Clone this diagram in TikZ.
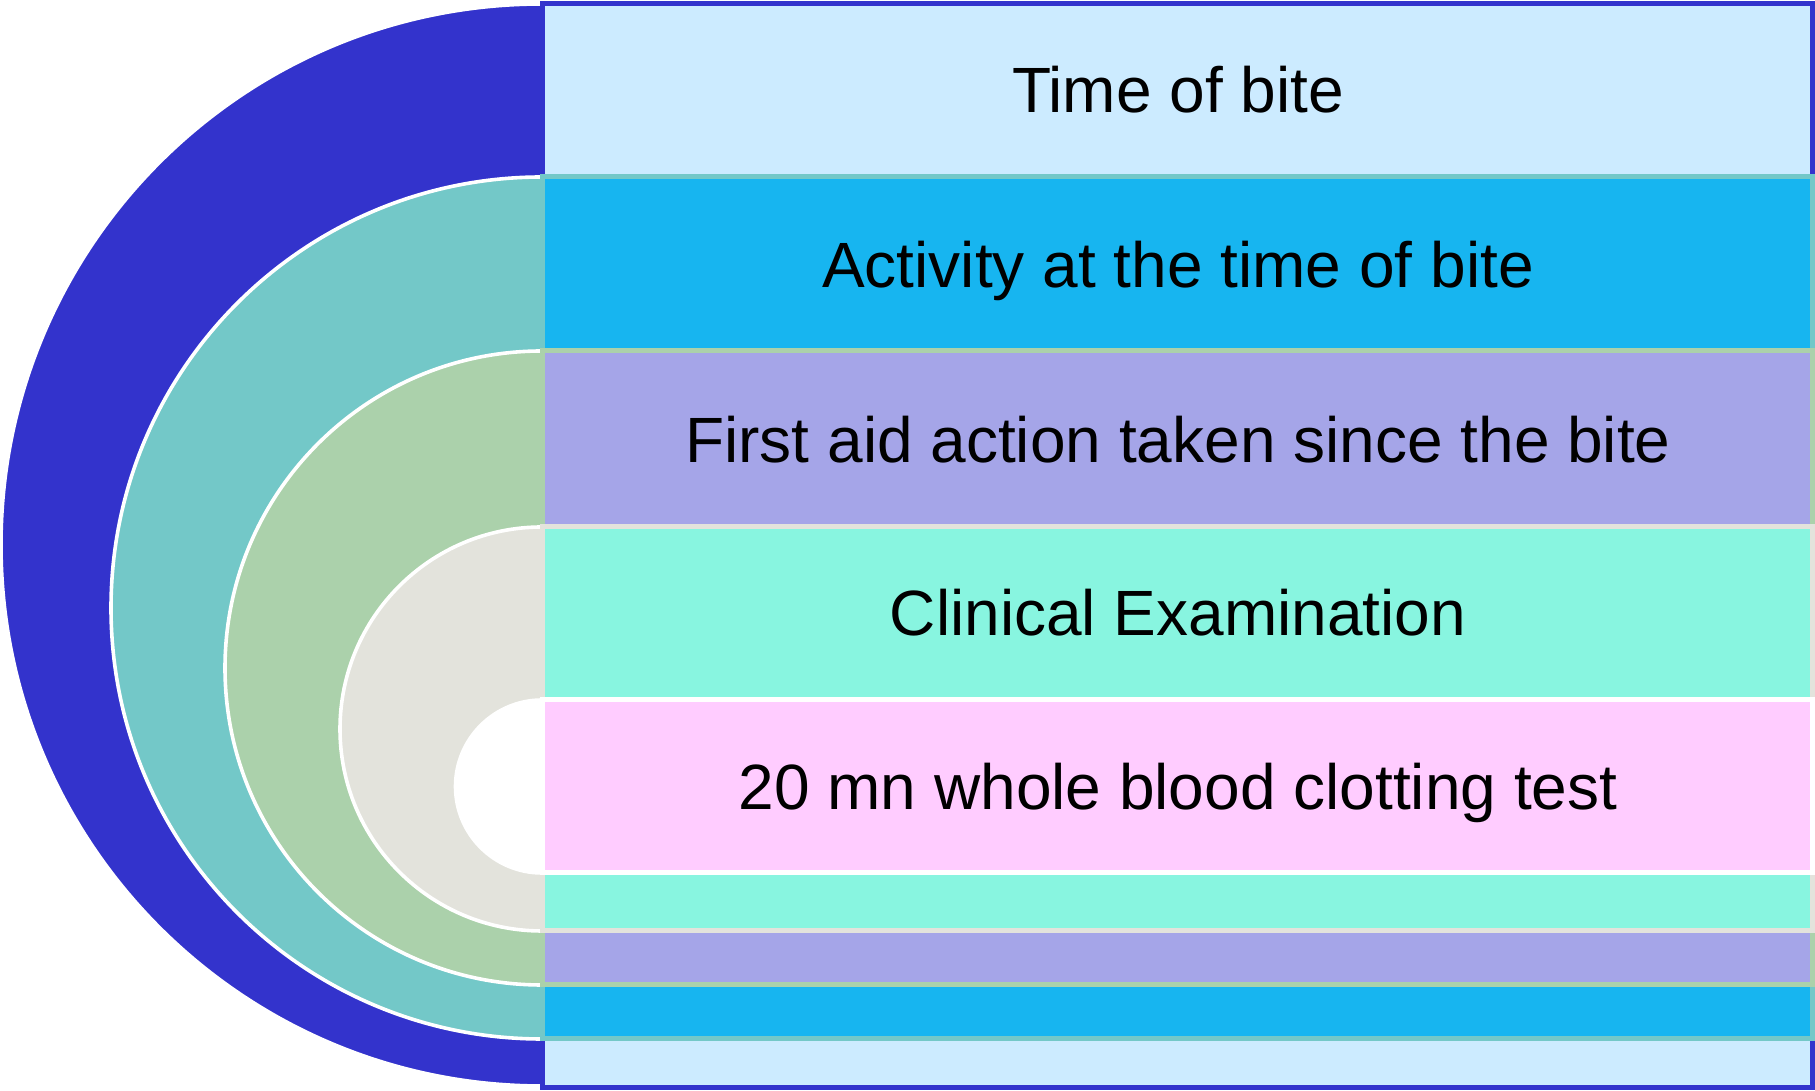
\documentclass[tikz,border=0pt]{standalone}
\usepackage{fontspec}
\setmainfont{Liberation Sans}
\usepackage{tikz}

\definecolor{ringA}{HTML}{3333CC}
\definecolor{ringB}{HTML}{73C8C8}
\definecolor{ringC}{HTML}{ABD1AB}
\definecolor{ringD}{HTML}{E3E3DC}
\definecolor{bandA}{HTML}{CCEBFF}
\definecolor{bandB}{HTML}{17B5F0}
\definecolor{bandC}{HTML}{A5A5E8}
\definecolor{bandD}{HTML}{88F5E0}
\definecolor{bandE}{HTML}{FFCCFF}

\begin{document}
\begin{tikzpicture}[x=0.5pt,y=0.5pt,
                    halfdisc/.style={draw=white,line width=1.8pt},
                    band/.style={line width=2.5pt},
                    bandtext/.style={font=\fontsize{32}{38}\selectfont,text=black,anchor=base}]

  \useasboundingbox (0,0) rectangle (1815,1091);

  % outer level
  \filldraw[halfdisc,fill=ringA] (542,1087) arc (90:270:541) -- cycle;
  \filldraw[band,draw=ringA,fill=bandA] (542,3) rectangle (1812,1087);

  % second level
  \filldraw[halfdisc,fill=ringB] (542,914) arc (90:270:431) -- cycle;
  \filldraw[band,draw=ringB,fill=bandB] (542,52) rectangle (1812,914);

  % third level
  \filldraw[halfdisc,fill=ringC] (542,740) arc (90:270:317) -- cycle;
  \filldraw[band,draw=ringC,fill=bandC] (542,106) rectangle (1812,740);

  % fourth level
  \filldraw[halfdisc,fill=ringD] (542,564) arc (90:270:202) -- cycle;
  \filldraw[band,draw=ringD,fill=bandD] (542,160) rectangle (1812,564);

  % inner level
  \filldraw[halfdisc,fill=white] (542,391) arc (90:270:86.5) -- cycle;
  \filldraw[band,draw=white,fill=bandE] (542,218) rectangle (1812,391);

  \node[bandtext] (bite)     at (1178,978) {Time of bite};
  \node[bandtext] (activity) at (1178,803) {Activity at the time of bite};
  \node[bandtext] (firstaid) at (1178,628) {First aid action taken since the bite};
  \node[bandtext] (clinical) at (1178,455) {Clinical Examination};
  \node[bandtext] (clotting) at (1178,281) {20 mn whole blood clotting test};
\end{tikzpicture}
\end{document}
